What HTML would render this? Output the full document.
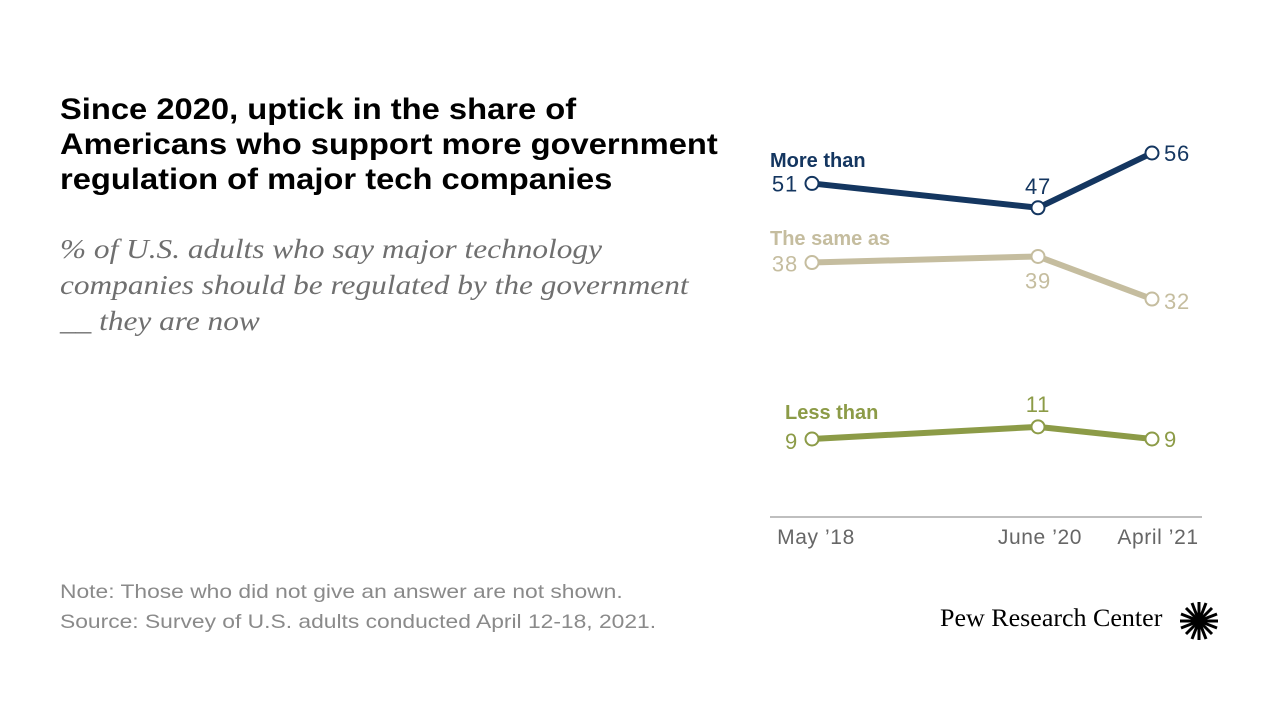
<!DOCTYPE html>
<html><head><meta charset="utf-8"><style>
body{margin:0;width:1280px;height:720px;background:#fff;overflow:hidden;position:relative;font-family:"Liberation Sans",sans-serif}
.t{position:absolute;transform-origin:0 0;white-space:nowrap}
</style></head><body>
<div class="t" style="left:60px;top:92px;font-size:30px;font-weight:bold;line-height:35px;color:#000;transform:scaleX(1.09)">Since 2020, uptick in the share of<br>Americans who support more government<br>regulation of major tech companies</div>
<div class="t" style="left:60px;top:231px;font-family:'Liberation Serif',serif;font-style:italic;font-size:27px;line-height:36px;color:#6f6f6f;transform:scaleX(1.16)">% of U.S. adults who say major technology<br>companies should be regulated by the government<br>__ they are now</div>
<div class="t" style="left:60px;top:577px;font-size:19.5px;line-height:30px;color:#8a8a8a;transform:scaleX(1.17)">Note: Those who did not give an answer are not shown.<br>Source: Survey of U.S. adults conducted April 12-18, 2021.</div>
<div class="t" style="left:940px;top:605px;font-family:'Liberation Serif',serif;font-size:25px;color:#000;transform:scaleX(1.04)">Pew Research Center</div>
<svg class="t" style="left:1178px;top:600px" width="42" height="42" viewBox="-21 -21 42 42"><g stroke="#000" stroke-width="3"><line x1="0" y1="-19" x2="0" y2="19"/><line x1="-19" y1="0" x2="19" y2="0"/><line x1="-13" y1="-13" x2="13" y2="13"/><line x1="-13" y1="13" x2="13" y2="-13"/><line x1="-7" y1="-18" x2="7" y2="18"/><line x1="7" y1="-18" x2="-7" y2="18"/><line x1="-18" y1="-7" x2="18" y2="7"/><line x1="-18" y1="7" x2="18" y2="-7"/></g><circle r="5" fill="#000"/></svg>
<svg id="chart" class="t" style="left:0;top:0" width="1280" height="720"></svg>
<script>
const months=[0,25,35];
const xLabels=["May \u201918","June \u201920","April \u201921"];
const moreThan=[51,47,56];
const sameAs=[38,39,32];
const lessThan=[9,11,9];
const seriesNames=["More than","The same as","Less than"];
const colors=["#143660","#c5bd9f","#8c9b47"];
const xPix=[812,1038,1152];
function x(i){return xPix[i];}
function y(v){return 439-(v-9)*6.085;}
const svg=document.getElementById('chart');
const NS="http://www.w3.org/2000/svg";
function mk(t,a){const e=document.createElementNS(NS,t);for(const k in a)e.setAttribute(k,a[k]);svg.appendChild(e);return e;}
const ax=mk('line',{x1:770,x2:1202,y1:517,y2:517,stroke:'#aaa','stroke-width':1.5});


xLabels.forEach((l,i)=>{const t=mk('text',{x:i==0?816:i==1?1040:1158,y:544,'text-anchor':'middle','font-size':21,fill:'#666','font-family':'Liberation Sans','letter-spacing':0.6});t.textContent=l;

});
const all=[moreThan,sameAs,lessThan];
const labPos=[[[-14,8,'end'],[0,-14,'middle'],[12,8,'start']],[[-14,9,'end'],[0,32,'middle'],[12,10,'start']],[[-14,10,'end'],[0,-15,'middle'],[12,8,'start']]];
const namePos=[[770,167],[770,245],[785,419]];
all.forEach((s,k)=>{
 const pl=mk('polyline',{points:s.map((v,i)=>x(i)+','+y(v)).join(' '),fill:'none',stroke:colors[k],'stroke-width':6,'stroke-linejoin':'round'});
 
 
 s.forEach((v,i)=>{
  const c=mk('circle',{cx:x(i),cy:y(v),r:6.5,fill:'#fff',stroke:colors[k],'stroke-width':2});
  
  
  const p=labPos[k][i];
  const t=mk('text',{x:x(i)+p[0],y:y(v)+p[1],'text-anchor':p[2],'font-size':22,fill:colors[k],'font-family':'Liberation Sans','letter-spacing':0.8});t.textContent=v;
  
  
 });
 const n=mk('text',{x:namePos[k][0],y:namePos[k][1],'font-size':20,'font-weight':'bold',fill:colors[k],'font-family':'Liberation Sans'});n.textContent=seriesNames[k];
 
 
});
</script>
</body></html>
